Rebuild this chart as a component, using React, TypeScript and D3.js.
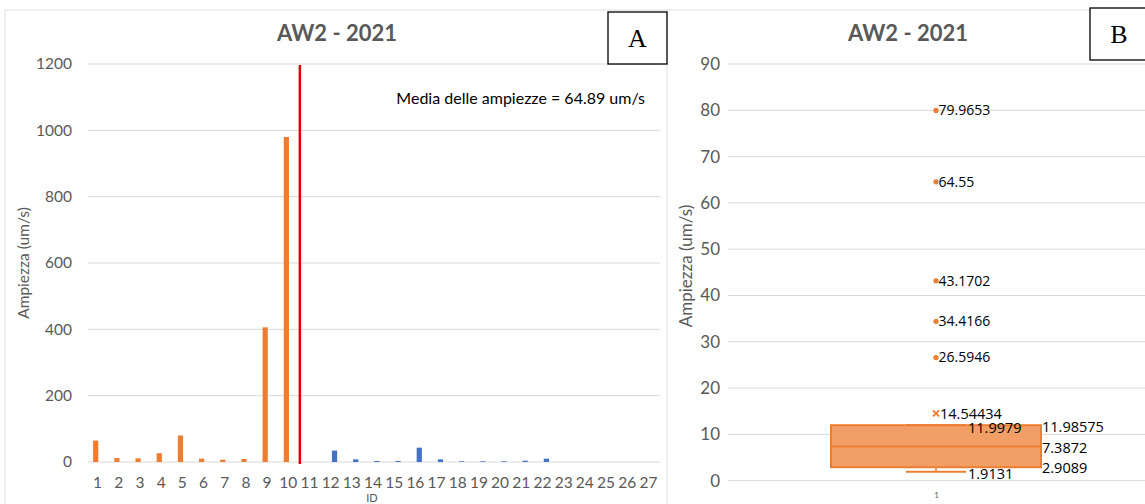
import React from "react";
import * as d3 from "d3";

// Panel A data
const ids = d3.range(1, 28).map(String);
const orangeVals: [string, number][] = [
  ["1", 64.55], ["2", 11.9979], ["3", 11], ["4", 26.5946], ["5", 79.9653],
  ["6", 10], ["7", 7], ["8", 9], ["9", 406], ["10", 980],
];
const blueVals: [string, number][] = [
  ["12", 34.4166], ["13", 8], ["14", 3], ["15", 3], ["16", 43.1702], ["17", 8],
  ["18", 2], ["19", 2], ["20", 2], ["21", 4], ["22", 10],
];
const leftTicks = [0, 200, 400, 600, 800, 1000, 1200];
const meanLabel = "Media delle ampiezze = 64.89 um/s";
const splitAfterId = "10";

// Panel B data
const rightTicks = [0, 10, 20, 30, 40, 50, 60, 70, 80, 90];
const outliers = [79.9653, 64.55, 43.1702, 34.4166, 26.5946];
const outlierLabels = ["79.9653", "64.55", "43.1702", "34.4166", "26.5946"];
const boxStats = { min: 1.9131, q1: 2.9089, median: 7.3872, q3: 11.98575, max: 11.9979, mean: 14.54434 };
const boxLabels = { min: "1.9131", q1: "2.9089", median: "7.3872", q3: "11.98575", max: "11.9979", mean: "14.54434" };

const ORANGE = "#ED7D31";
const BLUE = "#4472C4";
const GRID = "#D9D9D9";
const TXT = "#595959";
const FONT = "Lato, 'Open Sans', sans-serif";

export default function App() {
  // Left chart scales
  const xL = d3.scaleBand<string>().domain(ids).range([88, 660]).padding(0);
  const yL = d3.scaleLinear().domain([0, 1200]).range([462, 64]);
  const sub = (c: number) =>
    d3.scaleBand<string>().domain(["o", "b"]).range([c - 5.5, c + 5.5]).paddingInner(0.1);
  const splitX = (xL(splitAfterId) as number) + xL.bandwidth();

  // Right chart scales
  const xR = d3.scaleBand<string>().domain(["1"]).range([728, 1145]);
  const yR = d3.scaleLinear().domain([0, 90]).range([480.7, 64]);
  const cx = 936;
  const boxL = 831, boxR = 1041, capL = 906, capR = 966;

  return (
    <svg width={1145} height={504} style={{ position: "absolute", left: 0, top: 0, background: "#fff" }} fontFamily={FONT}>
      <rect width={1145} height={504} fill="#fff" />
      {/* panel borders */}
      <line x1={5} x2={1145} y1={10} y2={10} stroke="#E0E0E0" />
      <line x1={5} x2={5} y1={10} y2={504} stroke="#E0E0E0" />
      <line x1={667} x2={667} y1={10} y2={504} stroke="#E0E0E0" />

      {/* ===== Panel A ===== */}
      <text x={337} y={41} textAnchor="middle" fontSize={22} fontWeight="bold" fill={TXT}>AW2 - 2021</text>
      {leftTicks.map((t) => (
        <g key={t}>
          <line x1={88} x2={660} y1={yL(t)} y2={yL(t)} stroke={GRID} strokeWidth={1} />
          <text x={72} y={yL(t)} dy="0.35em" textAnchor="end" fontSize={15.5} fill={TXT}>{t}</text>
        </g>
      ))}
      {orangeVals.map(([id, v]) => {
        const c = (xL(id) as number) + xL.bandwidth() / 2;
        const s = sub(c);
        return <rect key={"o" + id} x={s("o")} width={s.bandwidth()} y={yL(v)} height={yL(0) - yL(v)} fill={ORANGE} />;
      })}
      {blueVals.map(([id, v]) => {
        const c = (xL(id) as number) + xL.bandwidth() / 2;
        const s = sub(c);
        return <rect key={"b" + id} x={s("b")} width={s.bandwidth()} y={yL(v)} height={yL(0) - yL(v)} fill={BLUE} />;
      })}
      {ids.map((id) => (
        <text key={id} x={(xL(id) as number) + xL.bandwidth() / 2 - 1} y={488} textAnchor="middle" fontSize={15.5} fill={TXT}>{id}</text>
      ))}
      <line x1={splitX} x2={splitX} y1={yL(1197)} y2={464} stroke="#E00000" strokeWidth={2.5} />
      <text x={645} y={104} textAnchor="end" fontSize={16} fill="#000">{meanLabel}</text>
      <text x={372} y={502} textAnchor="middle" fontSize={11} fill={TXT}>ID</text>
      <text transform={`translate(29,263) rotate(-90)`} textAnchor="middle" fontSize={15.5} fill={TXT}>Ampiezza (um/s)</text>
      <rect x={608} y={12} width={59} height={52} fill="#fff" stroke="#000" strokeWidth={1.3} />
      <text x={637.5} y={47} textAnchor="middle" fontSize={26} fontFamily="'Liberation Serif', serif" fill="#000">A</text>

      {/* ===== Panel B ===== */}
      <text x={908} y={41} textAnchor="middle" fontSize={22} fontWeight="bold" fill={TXT}>AW2 - 2021</text>
      {rightTicks.map((t) => (
        <g key={t}>
          <line x1={728} x2={1145} y1={yR(t)} y2={yR(t)} stroke={GRID} strokeWidth={1} />
          <text x={720} y={yR(t)} dy="0.35em" textAnchor="end" fontSize={17} fill={TXT}>{t}</text>
        </g>
      ))}
      <text x={(xR("1") as number) + xR.bandwidth() / 2} y={498} textAnchor="middle" fontSize={8} fill={TXT}>1</text>
      <text transform={`translate(692,266) rotate(-90)`} textAnchor="middle" fontSize={17} fill={TXT}>Ampiezza (um/s)</text>

      {/* whiskers */}
      <line x1={cx} x2={cx} y1={yR(boxStats.q1)} y2={yR(boxStats.min)} stroke={ORANGE} strokeWidth={1.5} />
      <line x1={capL} x2={capR} y1={yR(boxStats.min)} y2={yR(boxStats.min)} stroke={ORANGE} strokeWidth={2} />
      <line x1={capL} x2={capR} y1={yR(boxStats.max)} y2={yR(boxStats.max)} stroke={ORANGE} strokeWidth={2} />
      {/* box */}
      <rect x={boxL} y={yR(boxStats.q3)} width={boxR - boxL} height={yR(boxStats.q1) - yR(boxStats.q3)}
        fill="#F19F66" stroke={ORANGE} strokeWidth={2} />
      <line x1={boxL} x2={boxR} y1={yR(boxStats.median)} y2={yR(boxStats.median)} stroke={ORANGE} strokeWidth={2} />
      {/* mean marker */}
      <g stroke={ORANGE} strokeWidth={2}>
        <line x1={cx - 3} x2={cx + 3} y1={yR(boxStats.mean) - 3} y2={yR(boxStats.mean) + 3} />
        <line x1={cx - 3} x2={cx + 3} y1={yR(boxStats.mean) + 3} y2={yR(boxStats.mean) - 3} />
      </g>
      {outliers.map((v, i) => (
        <g key={i}>
          <circle cx={cx} cy={yR(v)} r={2.6} fill={ORANGE} />
          <text x={938.5} y={yR(v)} dy="0.35em" fontSize={14} fill="#000" fontFamily="'Open Sans', sans-serif">{outlierLabels[i]}</text>
        </g>
      ))}
      <g fontSize={14.5} fill="#000" fontFamily="'Open Sans', sans-serif">
        <text x={940} y={yR(boxStats.mean) + 1} dy="0.35em">{boxLabels.mean}</text>
        <text x={968} y={yR(boxStats.max) + 3} dy="0.35em">{boxLabels.max}</text>
        <text x={1042} y={yR(boxStats.q3) + 2} dy="0.35em">{boxLabels.q3}</text>
        <text x={1042} y={yR(boxStats.median) + 1} dy="0.35em">{boxLabels.median}</text>
        <text x={1042} y={yR(boxStats.q1) + 1} dy="0.35em">{boxLabels.q1}</text>
        <text x={968} y={yR(boxStats.min) + 2} dy="0.35em">{boxLabels.min}</text>
      </g>
      <rect x={1090} y={8} width={60} height={52} fill="#fff" stroke="#000" strokeWidth={1.3} />
      <text x={1119} y={43} textAnchor="middle" fontSize={26} fontFamily="'Liberation Serif', serif" fill="#000">B</text>
    </svg>
  );
}
